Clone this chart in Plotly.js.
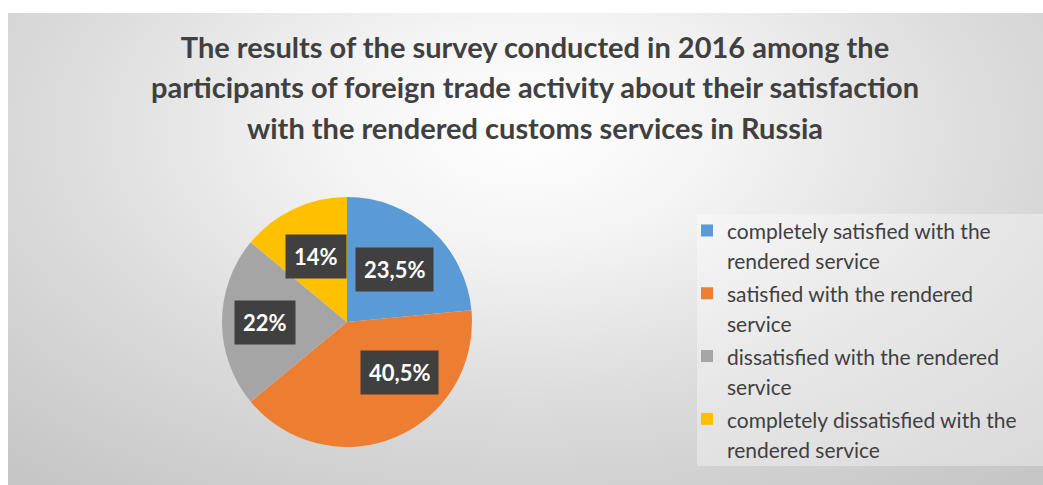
<!DOCTYPE html>
<html>
<head>
<meta charset="utf-8">
<script src="https://cdn.plot.ly/plotly-3.0.1.min.js"></script>
<style>
  html, body { margin:0; padding:0; background:#ffffff; }
  #wrap { position:relative; width:1043px; height:485px; overflow:hidden; }
  #bg { position:absolute; left:8px; top:13px; width:1035px; height:472px;
        background: radial-gradient(ellipse 75% 95% at 50% 25%, #ffffff 0%, #f4f4f4 25%, #dcdcdc 60%, #c6c6c6 100%); }
  #chart { position:absolute; left:0; top:0; width:1043px; height:485px; }
</style>
</head>
<body>
<div id="wrap"><div id="bg"></div><div id="chart"></div></div>
<script>
const categories = [
  "completely satisfied with the<br>rendered service",
  "satisfied with the rendered<br>service",
  "dissatisfied with the rendered<br>service",
  "completely dissatisfied with the<br>rendered service"
];
const values = [23.5, 40.5, 22, 14];
const valueLabels = ["23,5%", "40,5%", "22%", "14%"];
const colors = ["#5B9BD5", "#ED7D31", "#A5A5A5", "#FFC000"];
const titleText = "The results of the survey conducted in 2016 among the<br>participants of foreign trade activity about their satisfaction<br>with the rendered customs services in Russia";

const W = 1043, H = 485;
const pieDomain = { x: [222 / W, 472 / W], y: [1 - 447 / H, 1 - 197 / H] };

// label positions derived from the data (slice mid-angles), with small placement tweaks
const total = values.reduce((a, b) => a + b, 0);
const cx = (pieDomain.x[0] + pieDomain.x[1]) / 2 * W;
const cy = (1 - (pieDomain.y[0] + pieDomain.y[1]) / 2) * H;
const R = Math.min((pieDomain.x[1] - pieDomain.x[0]) * W, (pieDomain.y[1] - pieDomain.y[0]) * H) / 2;
const labelR = [0.57, 0.58, 0.66, 0.58];
const labelTurn = [0, -0.065, 0, 0]; // fraction of a full turn
let cum = 0;
const annotations = values.map((v, i) => {
  const mid = (cum + v / 2) / total + labelTurn[i]; cum += v;
  const th = 2 * Math.PI * mid;
  const px = cx + labelR[i] * R * Math.sin(th);
  const py = cy - labelR[i] * R * Math.cos(th);
  return {
    x: px / W, y: 1 - py / H, xref: "paper", yref: "paper",
    xanchor: "center", yanchor: "middle",
    text: "<b>" + valueLabels[i] + "</b>", showarrow: false,
    bgcolor: "#404040", borderpad: 8,
    font: { family: "Lato, 'Open Sans', sans-serif", size: 22, color: "#ffffff" }
  };
});

const span = (s, px) => '<span style="font-size:' + px + 'px">' + s.split("<br>").join('</span><br><span style="font-size:' + px + 'px">') + '</span>';

const data = [{
  type: "pie",
  labels: categories.map(c => span(c, 21)),
  values: values,
  marker: { colors: colors, line: { width: 0 } },
  sort: false,
  direction: "clockwise",
  rotation: 0,
  textinfo: "none",
  hoverinfo: "label+percent",
  domain: pieDomain
}];

const layout = {
  width: W, height: H,
  margin: { l: 0, r: 0, t: 0, b: 0 },
  paper_bgcolor: "rgba(0,0,0,0)",
  plot_bgcolor: "rgba(0,0,0,0)",
  title: {
    text: span(titleText, 29),
    font: { family: "Lato, 'Open Sans', sans-serif", size: 31, color: "#404040", weight: "bold" },
    x: 535 / W, xanchor: "center", xref: "paper",
    y: 1 - 58 / H, yanchor: "top", yref: "container"
  },
  showlegend: true,
  legend: {
    x: 687 / W, xanchor: "left",
    y: 1 - 209 / H, yanchor: "top",
    bgcolor: "rgba(0,0,0,0)",
    valign: "top",
    traceorder: "normal",
    font: { family: "Lato, 'Open Sans', sans-serif", size: 23, color: "#404040" }
  },
  shapes: [{
    type: "rect", xref: "paper", yref: "paper",
    x0: 697 / W, x1: 1, y0: 1 - 466 / H, y1: 1 - 214 / H,
    fillcolor: "rgba(255,255,255,0.35)", line: { width: 0 }, layer: "below"
  }],
  annotations: annotations
};

Plotly.newPlot("chart", data, layout, { displayModeBar: false, staticPlot: true });
</script>
</body>
</html>
